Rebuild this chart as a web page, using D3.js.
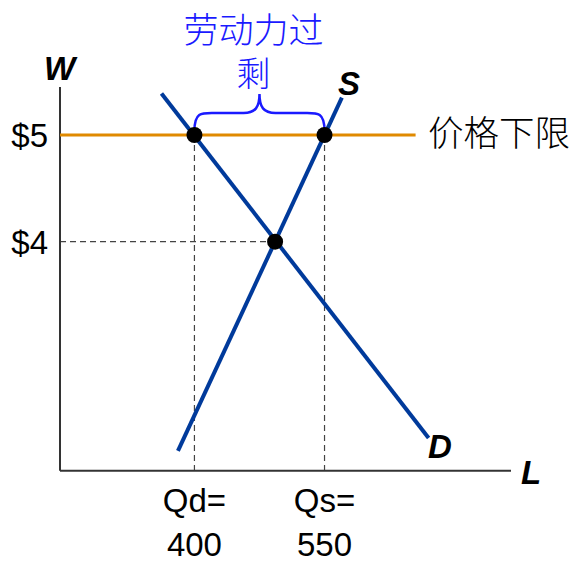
<!DOCTYPE html>
<html><head><meta charset="utf-8">
<script src="https://cdn.jsdelivr.net/npm/d3@7"></script>
<style>
html,body{margin:0;padding:0;background:#fff;}
svg{display:block;}
</style>
</head><body>
<script>
// ---- data ----
const floorPrice = 5;           // price floor W = $5
const eqPrice = 4;              // equilibrium wage $4
const eqQty = 493;              // equilibrium quantity
const qd = 400;                 // quantity demanded at floor
const qs = 550;                 // quantity supplied at floor
const floorLineEndQty = 655;    // end of the price-floor line
const demandPts = [{q: 362, w: 5.39}, {q: 670, w: 2.16}];
const supplyPts = [{q: 381, w: 2.04}, {q: 570, w: 5.35}];
const yTickLabels = [{w: 5, label: "$5"}, {w: 4, label: "$4"}];
const xTickLabels = [{q: 400, l1: "Qd=", l2: "400"}, {q: 550, l1: "Qs=", l2: "550"}];
const xDomain = [245, 765];
const yDomain = [1.854, 5.45];
const surplusLabel = ["劳动力过", "剩"];
const floorLabel = "价格下限";

// ---- layout ----
const W = 586, H = 574;
const svg = d3.select("body").append("svg").attr("width", W).attr("height", H);

const x = d3.scaleLinear().domain(xDomain).range([60, 511]);
const y = d3.scaleLinear().domain(yDomain).range([470.7, 87]);

const blue = "#003a9b", orange = "#e08a00", braceBlue = "#1a1aff";
const latin = "'Liberation Sans', Arial, sans-serif";
const cjk = "'Noto Sans CJK SC', sans-serif";

// dashed guides
const dash = svg.append("g").attr("stroke", "#444").attr("stroke-width", 1.2).attr("stroke-dasharray", "6,4").attr("fill", "none");
dash.append("line").attr("x1", x(xDomain[0])).attr("x2", x(eqQty)).attr("y1", y(eqPrice)).attr("y2", y(eqPrice));
[qd, qs].forEach(q => {
  dash.append("line").attr("x1", x(q)).attr("x2", x(q)).attr("y1", y(floorPrice)).attr("y2", y(yDomain[0]));
});

// axes
const axes = svg.append("g").attr("stroke", "#333").attr("stroke-width", 2).attr("fill", "none");
axes.append("line").attr("x1", x(xDomain[0])).attr("x2", x(xDomain[0])).attr("y1", y(yDomain[1])).attr("y2", y(yDomain[0]));
axes.append("line").attr("x1", x(xDomain[0])).attr("x2", x(xDomain[1])).attr("y1", y(yDomain[0])).attr("y2", y(yDomain[0]));

// price floor line
svg.append("line").attr("x1", x(xDomain[0])).attr("x2", x(floorLineEndQty))
  .attr("y1", y(floorPrice)).attr("y2", y(floorPrice))
  .attr("stroke", orange).attr("stroke-width", 3);

// demand & supply
const line = d3.line().x(d => x(d.q)).y(d => y(d.w));
svg.append("path").attr("d", line(demandPts)).attr("stroke", blue).attr("stroke-width", 4).attr("fill", "none");
svg.append("path").attr("d", line(supplyPts)).attr("stroke", blue).attr("stroke-width", 4).attr("fill", "none");

// brace
const bx1 = x(qd), bx2 = x(qs), bm = (bx1 + bx2) / 2;
const by0 = y(floorPrice) - 4, by1 = y(floorPrice) - 22, by2 = y(floorPrice) - 41;
const bracePath = `M${bx1},${by0} C${bx1},${by1 - 2} ${bx1 + 8},${by1} ${bx1 + 22},${by1}
 L${bm - 16},${by1} C${bm - 4},${by1} ${bm},${by1 - 6} ${bm},${by2}
 C${bm},${by1 - 6} ${bm + 4},${by1} ${bm + 16},${by1}
 L${bx2 - 22},${by1} C${bx2 - 8},${by1} ${bx2},${by1 - 2} ${bx2},${by0}`;
svg.append("path").attr("d", bracePath).attr("stroke", braceBlue).attr("stroke-width", 2.5).attr("fill", "none");

// points
const pts = [{q: qd, w: floorPrice}, {q: qs, w: floorPrice}, {q: eqQty, w: eqPrice}];
svg.selectAll("circle.pt").data(pts).enter().append("circle")
  .attr("cx", d => x(d.q)).attr("cy", d => y(d.w)).attr("r", 8).attr("fill", "#000");

// y tick labels
svg.selectAll("text.yl").data(yTickLabels).enter().append("text")
  .attr("x", 48).attr("y", d => y(d.w) + 12)
  .attr("text-anchor", "end").attr("font-family", latin).attr("font-size", 33)
  .text(d => d.label);

// x tick labels
xTickLabels.forEach(d => {
  svg.append("text").attr("x", x(d.q)).attr("y", 512).attr("text-anchor", "middle")
    .attr("font-family", latin).attr("font-size", 33).text(d.l1);
  svg.append("text").attr("x", x(d.q)).attr("y", 556).attr("text-anchor", "middle")
    .attr("font-family", latin).attr("font-size", 33).text(d.l2);
});

// axis / curve labels
const bi = (t, px, py) => svg.append("text").attr("x", px).attr("y", py)
  .attr("font-family", latin).attr("font-size", 33).attr("font-weight", "bold").attr("font-style", "italic").text(t);
bi("W", 44, 80);
bi("S", 338, 95);
bi("D", 428, 458);
bi("L", 521, 484);

// Chinese labels
svg.append("text").attr("x", bm - 6).attr("y", 43).attr("text-anchor", "middle")
  .attr("font-family", cjk).attr("font-weight", 300).attr("font-size", 35).attr("fill", braceBlue).text(surplusLabel[0]);
svg.append("text").attr("x", bm - 6).attr("y", 86).attr("text-anchor", "middle")
  .attr("font-family", cjk).attr("font-weight", 300).attr("font-size", 34).attr("fill", braceBlue).text(surplusLabel[1]);
svg.append("text").attr("x", 428).attr("y", 146)
  .attr("font-family", cjk).attr("font-weight", 300).attr("font-size", 35.5).attr("fill", "#000").text(floorLabel);
</script>
</body></html>
